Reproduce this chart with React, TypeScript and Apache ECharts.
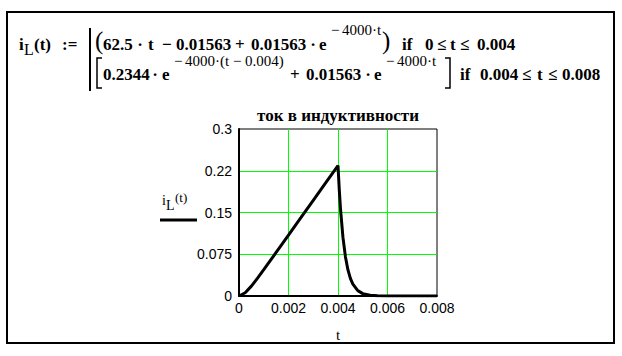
import React, { useEffect, useRef } from "react";
import * as echarts from "echarts";

// Data
const tValues: number[] = [0, 0.00025, 0.0005, 0.00075, 0.001, 0.0015, 0.002, 0.0025, 0.003, 0.0035, 0.004, 0.00405, 0.0041, 0.0042, 0.0043, 0.0044, 0.0045, 0.0046, 0.0048, 0.005, 0.0053, 0.0056, 0.006, 0.007, 0.008];
const iValues: number[] = [0, 0.0058, 0.0177, 0.032, 0.0472, 0.0782, 0.1094, 0.1406, 0.1719, 0.2031, 0.2344, 0.1919, 0.1571, 0.1053, 0.0706, 0.0473, 0.0317, 0.0213, 0.0096, 0.0043, 0.0013, 0.0004, 0.0001, 0, 0];
const yTickLabels: Record<string, string> = { "0": "0", "0.075": "0.075", "0.15": "0.15", "0.225": "0.22", "0.3": "0.3" };
const xTickLabels: Record<string, string> = { "0": "0", "0.002": "0.002", "0.004": "0.004", "0.006": "0.006", "0.008": "0.008" };
const chartTitle = "ток в индуктивности";
const xName = "t";

const SERIF = '"Liberation Serif", "Times New Roman", serif';
const B = `bold 17px ${SERIF}`;
const S = `15px ${SERIF}`;
const P = `25px ${SERIF}`;

const T = (text: string, x: number, y: number, font: string, align: string = "left") => ({
  type: "text",
  x,
  y,
  style: { text, font, fill: "#000", textAlign: align, textVerticalAlign: "middle" },
});

export default function App() {
  const ref = useRef<HTMLDivElement>(null);
  useEffect(() => {
    if (!ref.current) return;
    const chart = echarts.init(ref.current, null, { renderer: "svg" });
    const data = tValues.map((t, i) => [t, iValues[i]]);
    const y1 = 44;
    const s1 = 30;
    const y2 = 74;
    const s2 = 61;
    chart.setOption({
      animation: false,
      backgroundColor: "#fff",
      grid: { left: 239, top: 129, width: 198, height: 167, show: true, borderColor: "#000", borderWidth: 1, backgroundColor: "transparent" },
      xAxis: {
        type: "value",
        min: 0,
        max: 0.008,
        interval: 0.002,
        name: xName,
        nameLocation: "middle",
        nameGap: 31,
        nameTextStyle: { fontFamily: SERIF, fontSize: 15, color: "#000" },
        axisLine: { show: true, onZero: false, lineStyle: { color: "#000", width: 2 } },
        axisTick: { show: false },
        axisLabel: {
          margin: 5,
          color: "#000",
          fontFamily: '"Liberation Sans", Arial, sans-serif',
          fontSize: 14,
          formatter: (v: number) => xTickLabels[String(+v.toFixed(4))] ?? String(+v.toFixed(4)),
        },
        splitLine: { show: true, showMinLine: false, showMaxLine: false, lineStyle: { color: "#00ff00", width: 1 } },
      },
      yAxis: {
        type: "value",
        min: 0,
        max: 0.3,
        interval: 0.075,
        axisLine: { show: true, onZero: false, lineStyle: { color: "#000", width: 2 } },
        axisTick: { show: false },
        axisLabel: {
          margin: 7,
          color: "#000",
          fontFamily: '"Liberation Sans", Arial, sans-serif',
          fontSize: 14,
          formatter: (v: number) => yTickLabels[String(+v.toFixed(4))] ?? String(+v.toFixed(4)),
        },
        splitLine: { show: true, showMinLine: false, showMaxLine: false, lineStyle: { color: "#00ff00", width: 1 } },
      },
      series: [
        {
          type: "line",
          data,
          showSymbol: false,
          symbol: "none",
          lineStyle: { color: "#000", width: 3 },
          z: 5,
        },
      ],
      graphic: [
        { type: "rect", shape: { x: 7, y: 12, width: 607, height: 331 }, style: { fill: "none", stroke: "#000", lineWidth: 2 } },
        // left side "i_L(t) :="
        T("i", 19, y1, `bold 17px ${SERIF}`),
        T("L", 24, y1 + 5, `16px ${SERIF}`),
        T("(t)", 34, y1, `bold 17px ${SERIF}`),
        T(":=", 62, y1, `bold 17px ${SERIF}`),
        { type: "line", shape: { x1: 90, y1: 28, x2: 90, y2: 91 }, style: { stroke: "#000", lineWidth: 2 } },
        // line 1
        T("(", 95, 40, P),
        T("62.5", 103, y1, B),
        T("·", 140, y1, B, "center"),
        T("t", 148, y1, B),
        T("−", 162, y1, B),
        T("0.01563", 176, y1, B),
        T("+", 235, y1, B),
        T("0.01563", 251, y1, B),
        T("·", 313, y1, B, "center"),
        T("e", 319, y1, B),
        T("−", 331, s1, S),
        T("4000·t", 342, s1, S),
        T(")", 382, 40, P),
        T("if", 402, y1, B),
        T("0", 425, y1, B),
        T("≤", 437, y1, B),
        T("t", 450, y1, B),
        T("≤", 460, y1, B),
        T("0.004", 477, y1, B),
        // line 2
        { type: "polyline", shape: { points: [[102, 58], [97, 58], [97, 88], [102, 88]] }, style: { fill: "none", stroke: "#000", lineWidth: 1.5 } },
        T("0.2344", 103, y2, B),
        T("·", 155, y2, B, "center"),
        T("e", 162, y2, B),
        T("−", 174, s2, S),
        T("4000·(t − 0.004)", 185, s2, S),
        T("+", 290, y2, B),
        T("0.01563", 306, y2, B),
        T("·", 368, y2, B, "center"),
        T("e", 374, y2, B),
        T("−", 386, s2, S),
        T("4000·t", 397, s2, S),
        { type: "polyline", shape: { points: [[445, 58], [450, 58], [450, 88], [445, 88]] }, style: { fill: "none", stroke: "#000", lineWidth: 1.5 } },
        T("if", 460, y2, B),
        T("0.004", 480, y2, B),
        T("≤", 522, y2, B),
        T("t", 537, y2, B),
        T("≤", 548, y2, B),
        T("0.008", 562, y2, B),
        // title
        T(chartTitle, 338, 115, `bold 17px ${SERIF}`, "center"),
        // legend
        T("i", 162, 200, `14px ${SERIF}`),
        T("L", 166, 205, `14px ${SERIF}`),
        T("(t)", 175, 197, `13px ${SERIF}`),
        { type: "line", shape: { x1: 160, y1: 220, x2: 197, y2: 220 }, style: { stroke: "#000", lineWidth: 3 } },
      ],
    });
    return () => chart.dispose();
  }, []);
  return <div ref={ref} style={{ position: "fixed", left: 0, top: 0, width: 622, height: 356 }} />;
}
